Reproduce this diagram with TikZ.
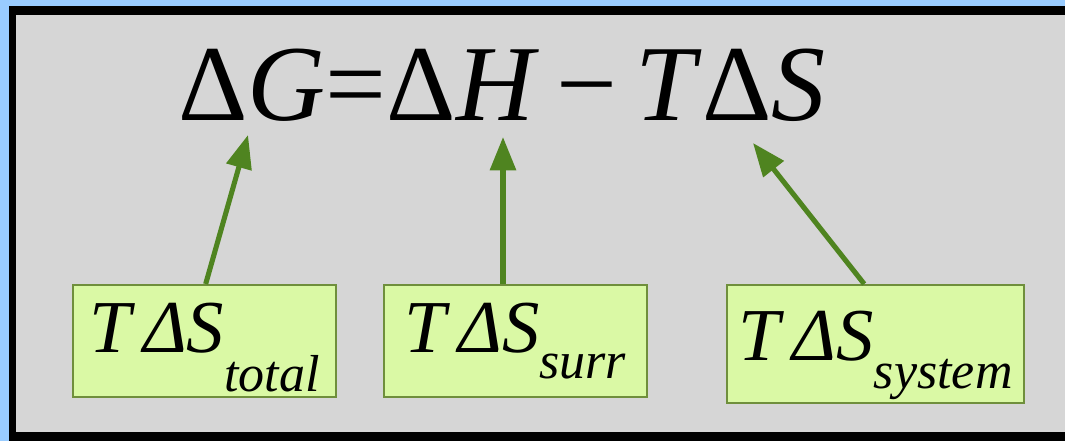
\documentclass[tikz,border=0pt]{standalone}
\usepackage{fontspec}
\setmainfont{Liberation Serif}
\usetikzlibrary{arrows.meta}
\definecolor{frameblue}{HTML}{99CCFF}
\definecolor{panelgrey}{HTML}{D6D6D6}
\definecolor{boxgreen}{HTML}{DAF9A5}
\definecolor{boxedge}{HTML}{6F8F3C}
\definecolor{arrowgreen}{HTML}{4F8420}
\newcommand{\subterm}[2]{\raisebox{-#1}{\fontsize{39}{44}\selectfont\textit{#2}}}
\begin{document}
\begin{tikzpicture}[x=0.75pt,y=-0.75pt,
    termbox/.style={draw=boxedge,line width=1.5pt,fill=boxgreen,inner sep=0pt,anchor=north west,
      font=\fontsize{56}{60}\selectfont},
    pointer/.style={draw=arrowgreen,line width=3.8pt,-{Triangle[length=25pt,width=19pt]}}]
  % frame and panel
  \fill[frameblue] (0,0) rectangle (1065,441);
  \fill[black] (9,6) rectangle (1065,441);
  \fill[panelgrey] (16,15) rectangle (1065,432);
  % free energy equation
  \node[anchor=base west,inner sep=0pt,font=\fontsize{81}{88}\selectfont] (eqn) at (178,121)
    {Δ\textit{G}=Δ\textit{H}\,−\,\textit{T}Δ\textit{S}};
  % entropy terms
  \node[termbox,minimum width=197pt,text height=51pt,text depth=33pt] (total) at (72,284)
    {\textit{T\,ΔS}\subterm{29pt}{total}};
  \node[termbox,minimum width=197pt,text height=51pt,text depth=33pt] (surr) at (383,284)
    {\textit{T\,ΔS}\subterm{19.5pt}{surr}};
  \node[termbox,minimum width=223pt,text height=57pt,text depth=31.5pt] (system) at (726,284)
    {\textit{T\,ΔS}\subterm{21pt}{system}};
  % arrow tips under the equation
  \coordinate (tipG) at (248,135);
  \coordinate (tipH) at (503,137);
  \coordinate (tipS) at (753,143);
  \draw[pointer] ([xshift=1pt]total.north) -- (tipG);
  \draw[pointer] (surr.north -| tipH) -- (tipH);
  \draw[pointer] ([xshift=-8.6pt]system.north) -- (tipS);
\end{tikzpicture}
\end{document}
